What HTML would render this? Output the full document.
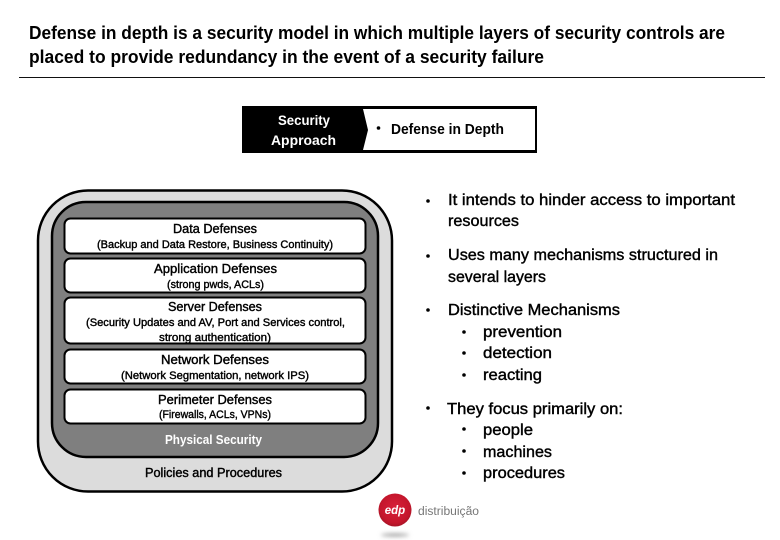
<!DOCTYPE html>
<html><head><meta charset="utf-8"><style>
html,body{margin:0;padding:0;background:#fff;width:780px;height:540px;overflow:hidden}
svg{display:block}
text{font-family:"Liberation Sans",sans-serif;fill:#000;font-weight:bold}
.n{font-weight:normal;stroke:#000;stroke-width:.4px}
</style></head><body>
<svg width="780" height="540" viewBox="0 0 780 540" xmlns="http://www.w3.org/2000/svg">
<defs>
<filter id="b" x="-30%" y="-200%" width="160%" height="500%"><feGaussianBlur stdDeviation="2"/></filter>
<radialGradient id="r" cx=".5" cy=".45" r=".55"><stop offset="0" stop-color="#d9203a"/><stop offset=".8" stop-color="#c4162c"/><stop offset="1" stop-color="#a81426"/></radialGradient>
</defs>
<g>
<text x="29" y="39" font-size="18" textLength="696" lengthAdjust="spacingAndGlyphs">Defense in depth is a security model in which multiple layers of security controls are</text>
<text x="29" y="63" font-size="18" textLength="515" lengthAdjust="spacingAndGlyphs">placed to provide redundancy in the event of a security failure</text>
</g>
<rect x="19" y="77" width="746" height="1" fill="#111"/>

<rect x="242" y="106" width="295" height="47" fill="#000"/>
<polygon points="363,109 535,109 535,150 363,150 368,130" fill="#fff"/>
<text x="278" y="125" font-size="14" style="fill:#fff" textLength="52" lengthAdjust="spacingAndGlyphs">Security</text>
<text x="271" y="145" font-size="14" style="fill:#fff" textLength="65" lengthAdjust="spacingAndGlyphs">Approach</text>
<circle cx="378.500" cy="128" r="1.800" fill="#000"/>
<text x="391" y="134" font-size="15" textLength="113" lengthAdjust="spacingAndGlyphs">Defense in Depth</text>

<rect x="38" y="190.500" width="354" height="301" rx="50" ry="50" fill="#dcdcdc" stroke="#000" stroke-width="2.500"/>
<rect x="52" y="202" width="326" height="255" rx="34" ry="34" fill="#7f7f7f" stroke="#000" stroke-width="2.500"/>
<rect x="64.500" y="218.500" width="301" height="35" rx="6" fill="#fff" stroke="#000" stroke-width="2"/>
<rect x="64.500" y="258.500" width="301" height="34" rx="6" fill="#fff" stroke="#000" stroke-width="2"/>
<rect x="64.500" y="297.500" width="301" height="46" rx="6" fill="#fff" stroke="#000" stroke-width="2"/>
<rect x="64.500" y="349.500" width="301" height="34" rx="6" fill="#fff" stroke="#000" stroke-width="2"/>
<rect x="64.500" y="389.500" width="301" height="34" rx="6" fill="#fff" stroke="#000" stroke-width="2"/>

<g>
<text class="n" x="173" y="233" font-size="12.500" textLength="84" lengthAdjust="spacingAndGlyphs">Data Defenses</text>
<text class="n" x="97" y="248" font-size="11" textLength="236" lengthAdjust="spacingAndGlyphs">(Backup and Data Restore, Business Continuity)</text>
<text class="n" x="154" y="273" font-size="12.500" textLength="123" lengthAdjust="spacingAndGlyphs">Application Defenses</text>
<text class="n" x="167" y="288" font-size="11" textLength="97" lengthAdjust="spacingAndGlyphs">(strong pwds, ACLs)</text>
<text class="n" x="168" y="311" font-size="12.500" textLength="94" lengthAdjust="spacingAndGlyphs">Server Defenses</text>
<text class="n" x="86" y="326" font-size="11" textLength="259" lengthAdjust="spacingAndGlyphs">(Security Updates and AV, Port and Services control,</text>
<text class="n" x="159" y="341" font-size="11" textLength="112" lengthAdjust="spacingAndGlyphs">strong authentication)</text>
<text class="n" x="161" y="364" font-size="12.500" textLength="108" lengthAdjust="spacingAndGlyphs">Network Defenses</text>
<text class="n" x="121" y="379" font-size="11" textLength="188" lengthAdjust="spacingAndGlyphs">(Network Segmentation, network IPS)</text>
<text class="n" x="158" y="404" font-size="12.500" textLength="114" lengthAdjust="spacingAndGlyphs">Perimeter Defenses</text>
<text class="n" x="159" y="418" font-size="11" textLength="112" lengthAdjust="spacingAndGlyphs">(Firewalls, ACLs, VPNs)</text>
</g>
<text x="165" y="444" font-size="12.500" style="fill:#fff" textLength="97" lengthAdjust="spacingAndGlyphs">Physical Security</text>
<text class="n" x="145" y="477" font-size="12.500" textLength="137" lengthAdjust="spacingAndGlyphs">Policies and Procedures</text>

<g fill="#000">
<circle cx="428" cy="201" r="1.800"/><circle cx="428" cy="256" r="1.800"/><circle cx="428" cy="310" r="1.800"/><circle cx="428" cy="408" r="1.800"/>
<circle cx="464" cy="332" r="1.800"/><circle cx="464" cy="353" r="1.800"/><circle cx="464" cy="375" r="1.800"/>
<circle cx="464" cy="429" r="1.800"/><circle cx="464" cy="451" r="1.800"/><circle cx="464" cy="473" r="1.800"/>
</g>
<g>
<text class="n" x="448" y="205" font-size="15.500" textLength="287" lengthAdjust="spacingAndGlyphs">It intends to hinder access to important</text>
<text class="n" x="448" y="226" font-size="15.500" textLength="71" lengthAdjust="spacingAndGlyphs">resources</text>
<text class="n" x="448" y="260" font-size="15.500" textLength="270" lengthAdjust="spacingAndGlyphs">Uses many mechanisms structured in</text>
<text class="n" x="448" y="282" font-size="15.500" textLength="98" lengthAdjust="spacingAndGlyphs">several layers</text>
<text class="n" x="448" y="315" font-size="15.500" textLength="172" lengthAdjust="spacingAndGlyphs">Distinctive Mechanisms</text>
<text class="n" x="483" y="337" font-size="15.500" textLength="79" lengthAdjust="spacingAndGlyphs">prevention</text>
<text class="n" x="483" y="358" font-size="15.500" textLength="69" lengthAdjust="spacingAndGlyphs">detection</text>
<text class="n" x="483" y="380" font-size="15.500" textLength="59" lengthAdjust="spacingAndGlyphs">reacting</text>
<text class="n" x="447" y="414" font-size="15.500" textLength="176" lengthAdjust="spacingAndGlyphs">They focus primarily on:</text>
<text class="n" x="483" y="435" font-size="15.500" textLength="50" lengthAdjust="spacingAndGlyphs">people</text>
<text class="n" x="483" y="457" font-size="15.500" textLength="69" lengthAdjust="spacingAndGlyphs">machines</text>
<text class="n" x="483" y="478" font-size="15.500" textLength="82" lengthAdjust="spacingAndGlyphs">procedures</text>
</g>

<circle cx="395" cy="510" r="16.500" fill="url(#r)"/>
<text x="395" y="514" font-size="11.500" text-anchor="middle" font-style="italic" style="fill:#fff">edp</text>
<text x="418" y="515" font-size="11.500" textLength="61" lengthAdjust="spacingAndGlyphs" style="fill:#777;font-weight:normal">distribuição</text>
<ellipse cx="395" cy="535" rx="14" ry="1.500" fill="#999" filter="url(#b)"/>
</svg>
</body></html>
